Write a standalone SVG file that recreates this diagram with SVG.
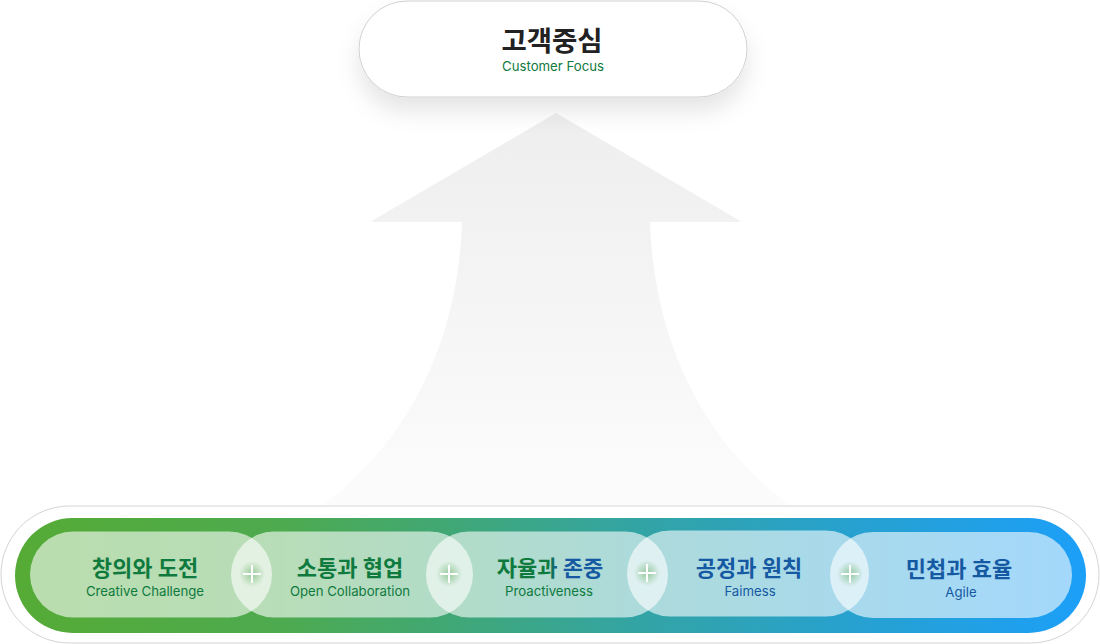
<svg xmlns="http://www.w3.org/2000/svg" width="1100" height="644" viewBox="0 0 1100 644">
<defs>
<style>
.ko{font-family:Inter,"Noto Sans CJK KR","Noto Sans",sans-serif;font-weight:700;text-anchor:middle}
.en{font-family:Inter,"Noto Sans","Liberation Sans",sans-serif;font-size:13.2px;text-anchor:middle}
.t{font-size:22px}
.g{fill:#0f7a3e}
.b{fill:#1659a3}
.pill{fill:#ffffff;fill-opacity:0.6}
.plus{stroke:#ffffff;stroke-width:2;fill:none}
</style>
<linearGradient id="arrowG" x1="0" y1="113" x2="0" y2="505" gradientUnits="userSpaceOnUse">
<stop offset="0" stop-color="#eeeeee"/>
<stop offset="1" stop-color="#fcfcfc"/>
</linearGradient>
<linearGradient id="bandG" x1="15" y1="0" x2="1086" y2="0" gradientUnits="userSpaceOnUse">
<stop offset="0" stop-color="#55ab35"/>
<stop offset="0.25" stop-color="#4daa4f"/>
<stop offset="0.42" stop-color="#3fa779"/>
<stop offset="0.58" stop-color="#33a4a4"/>
<stop offset="0.78" stop-color="#27a1cf"/>
<stop offset="1" stop-color="#1c9ff8"/>
</linearGradient>
<linearGradient id="titleG" x1="0" y1="0" x2="1100" y2="0" gradientUnits="userSpaceOnUse">
<stop offset="0.500" stop-color="#0f7a3e"/>
<stop offset="0.507" stop-color="#1659a3"/>
</linearGradient>
<radialGradient id="glow">
<stop offset="0" stop-color="#3c9a3c" stop-opacity="0.45"/>
<stop offset="1" stop-color="#3c9a3c" stop-opacity="0"/>
</radialGradient>
<filter id="shadow" x="-20%" y="-30%" width="140%" height="190%">
<feDropShadow dx="0" dy="14" stdDeviation="11" flood-color="#000000" flood-opacity="0.10"/>
</filter>
</defs>

<g id="arrow">
<path d="M556,113 L742,222 L650,222 C654,340 702,440 789,505 L323,505 C410,440 458,340 462,222 L370,222 Z" fill="url(#arrowG)"/>
</g>

<g id="node-customer-focus">
<rect x="359" y="1" width="388" height="96" rx="48" fill="#ffffff" stroke="#d0d0d0" stroke-width="1" filter="url(#shadow)"/>
<text class="ko" x="552" y="51" font-size="27.5" fill="#222222">고객중심</text>
<text class="en g" x="553" y="71">Customer Focus</text>
</g>

<g id="base">
<rect x="1" y="506" width="1098" height="137" rx="68.5" fill="#ffffff" stroke="#d4d4d4" stroke-width="1"/>
<rect x="15" y="518" width="1071" height="115" rx="57.5" fill="url(#bandG)"/>
</g>

<g id="node-creative">
<rect class="pill" x="30" y="531.5" width="242" height="86" rx="43"/>
<text class="ko t g" x="145" y="576">창의와 도전</text>
<text class="en g" x="145" y="596">Creative Challenge</text>
</g>
<g id="node-collaboration">
<rect class="pill" x="231" y="531.5" width="242" height="86" rx="43"/>
<text class="ko t g" x="350" y="576">소통과 협업</text>
<text class="en g" x="350" y="596">Open Collaboration</text>
</g>
<g id="node-proactive">
<rect class="pill" x="426" y="531.5" width="242" height="86" rx="43"/>
<text class="ko t" x="550" y="576" fill="url(#titleG)">자율과 존중</text>
<text class="en g" x="549" y="596">Proactiveness</text>
</g>
<g id="node-fairness">
<rect class="pill" x="627" y="530.5" width="242" height="86" rx="43"/>
<text class="ko t b" x="749" y="576">공정과 원칙</text>
<text class="en b" x="750" y="596">Faimess</text>
</g>
<g id="node-agile">
<rect class="pill" x="830" y="532" width="242" height="86" rx="43"/>
<text class="ko t b" x="959" y="577">민첩과 효율</text>
<text class="en b" x="961" y="597">Agile</text>
</g>

<g id="connectors">
<circle cx="252" cy="574" r="13" fill="url(#glow)"/>
<path class="plus" d="M243,574 H261 M252,565 V583"/>
<circle cx="449" cy="574" r="13" fill="url(#glow)"/>
<path class="plus" d="M440,574 H458 M449,565 V583"/>
<circle cx="647" cy="573" r="13" fill="url(#glow)"/>
<path class="plus" d="M638,573 H656 M647,564 V582"/>
<circle cx="850" cy="574" r="13" fill="url(#glow)"/>
<path class="plus" d="M841,574 H859 M850,565 V583"/>
</g>
</svg>
